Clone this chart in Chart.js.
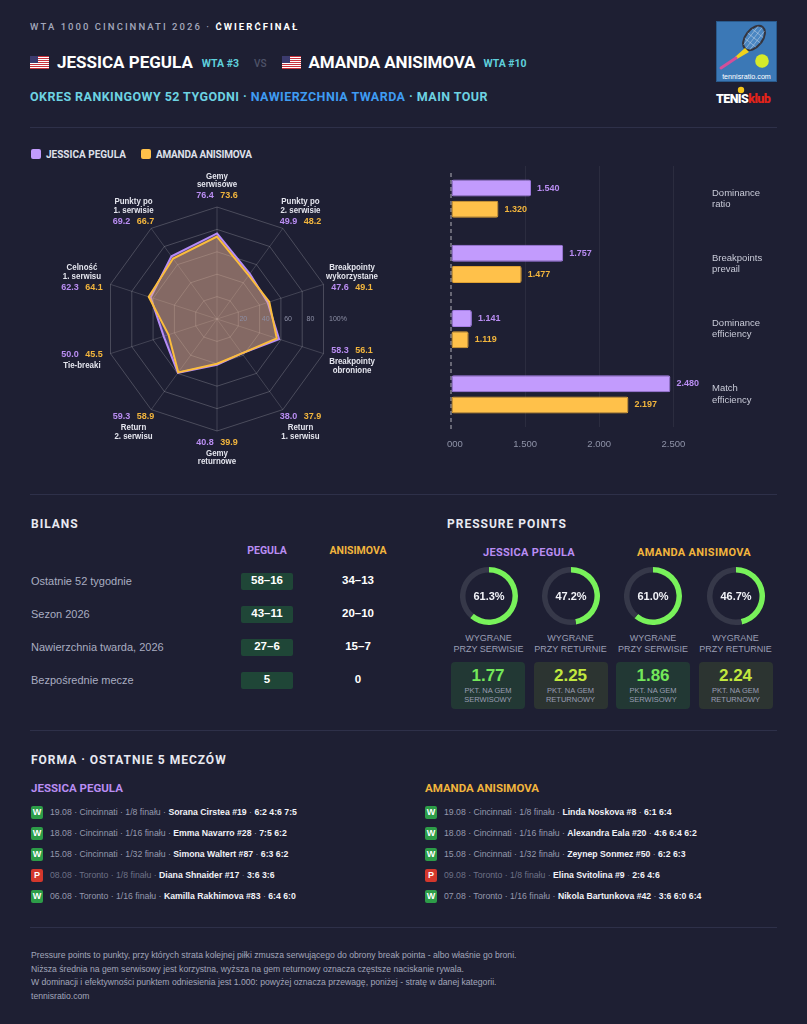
<!DOCTYPE html>
<html lang="pl">
<head>
<meta charset="utf-8">
<title>Pegula vs Anisimova</title>
<script src="https://cdn.jsdelivr.net/npm/chart.js@4.4.1/dist/chart.umd.min.js"></script>
<style>
  html, body { margin:0; padding:0; background:#1e1f33; }
  body { width:807px; height:1024px; position:relative; overflow:hidden; color:#e8e9f1; font-family:"Liberation Sans", Arial, sans-serif; }
  .t { position:absolute; white-space:nowrap; line-height:1; transform:translateY(-50%); }
  .c { transform:translate(-50%,-50%); text-align:center; }
  .disp { font-family:Roboto, "Liberation Sans", sans-serif; font-weight:700; }
  .narrow { transform:translateY(-50%) scaleX(0.915); transform-origin:left center; }
  .rule { position:absolute; left:30px; width:747px; height:1px; background:#2e3049; }
  .row { position:absolute; display:flex; align-items:center; white-space:nowrap; }
  .abs { position:absolute; }
</style>
</head>
<body>

<!-- header -->
<div class="t disp" style="left:30px;top:27px;font-size:9.5px;letter-spacing:2.05px;font-weight:500;color:#a3a7bb">WTA 1000 CINCINNATI 2026 · <span style="color:#fff;font-weight:700">ĆWIERĆFINAŁ</span></div>

<div class="row disp" style="left:30px;top:52px;height:20px">
  <svg width="19" height="13" viewBox="0 0 19 13"><rect width="19" height="13" fill="#fff"/><g fill="#c8323c"><rect y="0" width="19" height="1"/><rect y="2" width="19" height="1"/><rect y="4" width="19" height="1"/><rect y="6" width="19" height="1"/><rect y="8" width="19" height="1"/><rect y="10" width="19" height="1"/><rect y="12" width="19" height="1"/></g><rect width="8" height="7" fill="#3c3b6e"/></svg>
  <span style="margin-left:8px;font-size:17px;color:#fff">JESSICA PEGULA</span>
  <span style="margin-left:9px;font-size:10.5px;color:#5fd0dc;padding-top:2px">WTA #3</span>
  <span style="margin-left:15px;font-size:10px;color:#4f5369;font-weight:500;padding-top:2px">VS</span>
  <svg style="margin-left:16px" width="19" height="13" viewBox="0 0 19 13"><rect width="19" height="13" fill="#fff"/><g fill="#c8323c"><rect y="0" width="19" height="1"/><rect y="2" width="19" height="1"/><rect y="4" width="19" height="1"/><rect y="6" width="19" height="1"/><rect y="8" width="19" height="1"/><rect y="10" width="19" height="1"/><rect y="12" width="19" height="1"/></g><rect width="8" height="7" fill="#3c3b6e"/></svg>
  <span style="margin-left:7px;font-size:17px;color:#fff;letter-spacing:-0.1px">AMANDA ANISIMOVA</span>
  <span style="margin-left:8px;font-size:10.5px;color:#5fd0dc;padding-top:2px">WTA #10</span>
</div>

<div class="t disp" style="left:30px;top:97px;font-size:12.5px;letter-spacing:0.45px;color:#6dd3e2">OKRES RANKINGOWY 52 TYGODNI · <span style="color:#3f9cf2">NAWIERZCHNIA TWARDA</span> · MAIN TOUR</div>

<!-- logos -->
<svg class="abs" style="left:716px;top:21px" width="61" height="61" viewBox="0 0 61 61">
  <rect width="61" height="61" fill="#3b78b6"/>
  <rect x="0.5" y="0.5" width="60" height="60" fill="none" stroke="#2a5a8c"/>
  <ellipse cx="38" cy="17" rx="8.5" ry="14" transform="rotate(38 38 17)" fill="#4a86c2" stroke="#34343e" stroke-width="2"/>
  <g stroke="#dfe6ee" stroke-width="0.5" opacity="0.8" transform="rotate(38 38 17)">
    <line x1="34" y1="5" x2="34" y2="29"/><line x1="38" y1="4" x2="38" y2="30"/><line x1="42" y1="5" x2="42" y2="29"/>
    <line x1="31" y1="11" x2="45" y2="11"/><line x1="30" y1="17" x2="46" y2="17"/><line x1="31" y1="23" x2="45" y2="23"/>
  </g>
  <path d="M29 27 L33 31 L21 38 L19 36 Z" fill="#f1d21c"/>
  <line x1="20" y1="37" x2="5" y2="47" stroke="#d24f9a" stroke-width="3" stroke-linecap="round"/>
  <circle cx="46" cy="40" r="6.8" fill="#d6ea2a"/>
  <text x="30.5" y="58" text-anchor="middle" font-family="Liberation Sans, Arial" font-size="7.2" fill="#fff">tennisratio.com</text>
</svg>
<svg class="abs" style="left:714px;top:85px" width="66" height="22" viewBox="0 0 66 22">
  <circle cx="27" cy="5" r="3.2" fill="#f5c518"/>
  <text x="2" y="18" font-family="Roboto, Arial" font-weight="900" font-size="12.5" letter-spacing="-0.6" fill="#fff">TENIS<tspan fill="#e2231a">klub</tspan></text>
</svg>

<div class="rule" style="top:127px"></div>

<!-- legend -->
<div class="row disp" style="left:31px;top:148px;height:12px;font-size:10px;color:#dfe0ea">
  <span style="width:10px;height:10px;border-radius:2px;background:#c29bfd;display:inline-block"></span>
  <span style="margin-left:5px">JESSICA PEGULA</span>
  <span style="margin-left:15px;width:10px;height:10px;border-radius:2px;background:#ffc14a;display:inline-block"></span>
  <span style="margin-left:5px;letter-spacing:-0.2px">AMANDA ANISIMOVA</span>
</div>

<div class="abs" style="left:30px;top:160px;width:374px;height:318px"><canvas id="radar"></canvas></div>
<div class="abs" style="left:447px;top:160px;width:330px;height:300px;overflow:hidden">
  <div class="abs" style="left:-9px;top:0;width:339px;height:300px"><canvas id="ratios"></canvas></div>
</div>

<div class="rule" style="top:494px"></div>

<div class="t disp" style="left:31px;top:524px;font-size:12px;letter-spacing:1px;color:#e8e9f1">BILANS</div>
<div class="t c disp" style="left:267px;top:551px;font-size:10.5px;color:#b98df2">PEGULA</div>
<div class="t c disp" style="left:358px;top:551px;font-size:10.5px;color:#f2b53d">ANISIMOVA</div>
<div id="bilans"></div>

<div class="t disp" style="left:447px;top:524px;font-size:12px;letter-spacing:1px;color:#e8e9f1">PRESSURE POINTS</div>
<div class="t c disp" style="left:529px;top:552px;font-size:11px;letter-spacing:0.3px;color:#b98df2">JESSICA PEGULA</div>
<div class="t c disp" style="left:694px;top:552px;font-size:11px;letter-spacing:0.3px;color:#f2b53d">AMANDA ANISIMOVA</div>
<div id="pressure"></div>

<div class="rule" style="top:730px"></div>

<div class="t disp" style="left:31px;top:760px;font-size:12px;letter-spacing:1px;color:#e8e9f1">FORMA · OSTATNIE 5 MECZÓW</div>
<div class="t disp" style="left:31px;top:789px;font-size:11.5px;color:#b98df2">JESSICA PEGULA</div>
<div class="t disp" style="left:425px;top:789px;font-size:11.5px;color:#f2b53d">AMANDA ANISIMOVA</div>
<div id="forma"></div>

<div class="rule" style="top:927px"></div>
<div id="footer"></div>

<script>
// ---- data ----
var radarAxes = [['Gemy','serwisowe'], ['Punkty po','2. serwisie'], ['Breakpointy','wykorzystane'], ['Breakpointy','obronione'], ['Return','1. serwisu'],
                 ['Gemy','returnowe'], ['Return','2. serwisu'], ['Tie-breaki'], ['Celność','1. serwisu'], ['Punkty po','1. serwisie']];
var peguRadar = [76.4, 49.9, 47.6, 58.3, 38.0, 40.8, 59.3, 50.0, 62.3, 69.2];
var anisRadar = [73.6, 48.2, 49.1, 56.1, 37.9, 39.9, 58.9, 45.5, 64.1, 66.7];
var radarTicks = [20, 40, 60, 80, 100];

var ratioLabels = [['Dominance','ratio'], ['Breakpoints','prevail'], ['Dominance','efficiency'], ['Match','efficiency']];
var peguRatios = [1.540, 1.757, 1.141, 2.480];
var anisRatios = [1.320, 1.477, 1.119, 2.197];
var ratioTicks = [1.0, 1.5, 2.0, 2.5];

var bilansRows = ['Ostatnie 52 tygodnie', 'Sezon 2026', 'Nawierzchnia twarda, 2026', 'Bezpośrednie mecze'];
var peguRecord = ['58–16', '43–11', '27–6', '5'];
var anisRecord = ['34–13', '20–10', '15–7', '0'];

var pressureCaptions = [['WYGRANE','PRZY SERWISIE'], ['WYGRANE','PRZY RETURNIE']];
var perGameCaptions = [['PKT. NA GEM','SERWISOWY'], ['PKT. NA GEM','RETURNOWY']];
var peguPressure = [61.3, 47.2];
var anisPressure = [61.0, 46.7];
var peguPerGame = [1.77, 2.25];
var anisPerGame = [1.86, 2.24];

var peguForm = [
  ['W', '19.08 · Cincinnati · 1/8 finału', 'Sorana Cirstea #19', '6:2 4:6 7:5'],
  ['W', '18.08 · Cincinnati · 1/16 finału', 'Emma Navarro #28', '7:5 6:2'],
  ['W', '15.08 · Cincinnati · 1/32 finału', 'Simona Waltert #87', '6:3 6:2'],
  ['P', '08.08 · Toronto · 1/8 finału', 'Diana Shnaider #17', '3:6 3:6'],
  ['W', '06.08 · Toronto · 1/16 finału', 'Kamilla Rakhimova #83', '6:4 6:0']
];
var anisForm = [
  ['W', '19.08 · Cincinnati · 1/8 finału', 'Linda Noskova #8', '6:1 6:4'],
  ['W', '18.08 · Cincinnati · 1/16 finału', 'Alexandra Eala #20', '4:6 6:4 6:2'],
  ['W', '15.08 · Cincinnati · 1/32 finału', 'Zeynep Sonmez #50', '6:2 6:3'],
  ['P', '09.08 · Toronto · 1/8 finału', 'Elina Svitolina #9', '2:6 4:6'],
  ['W', '07.08 · Toronto · 1/16 finału', 'Nikola Bartunkova #42', '3:6 6:0 6:4']
];

var footerLines = [
  'Pressure points to punkty, przy których strata kolejnej piłki zmusza serwującego do obrony break pointa - albo właśnie go broni.',
  'Niższa średnia na gem serwisowy jest korzystna, wyższa na gem returnowy oznacza częstsze naciskanie rywala.',
  'W dominacji i efektywności punktem odniesienia jest 1.000: powyżej oznacza przewagę, poniżej - stratę w danej kategorii.',
  'tennisratio.com'
];

var PURPLE = '#c29bfd', PURPLE_TXT = '#b98df2';
var ORANGE = '#ffc14a', ORANGE_TXT = '#f2b53d';
var GREEN = '#78f25a', TRACK = '#363849';
var FONT = '"Liberation Sans", Arial, sans-serif';

// ---- radar ----
var radarText = {
  id: 'radarText',
  afterDraw: function(chart) {
    var s = chart.scales.r, ctx = chart.ctx;
    ctx.save();
    ctx.textBaseline = 'middle';
    ctx.font = '7px ' + FONT;
    ctx.fillStyle = '#8c8fa5';
    ctx.textAlign = 'left';
    radarTicks.forEach(function(v) {
      ctx.fillText(v === 100 ? v + '%' : v, s.xCenter + s.getDistanceFromCenterForValue(v), s.yCenter);
    });
    radarAxes.forEach(function(lines, i) {
      var p = s.getPointPosition(i, s.drawingArea + 30);
      var x = p.x, yc = s.yCenter + (p.y - s.yCenter) * 0.937;
      var lower = p.y > s.yCenter + 5;
      var nameH = 8.8, valH = 11;
      var y = yc - (lines.length * nameH + valH) / 2;
      var vals = function(yy) {
        ctx.font = 'bold 9px ' + FONT;
        var a = peguRadar[i].toFixed(1), b = anisRadar[i].toFixed(1);
        var wa = ctx.measureText(a).width, wb = ctx.measureText(b).width, gap = 6.5;
        var x0 = x - (wa + gap + wb) / 2;
        ctx.fillStyle = PURPLE_TXT; ctx.fillText(a, x0, yy);
        ctx.fillStyle = ORANGE_TXT; ctx.fillText(b, x0 + wa + gap, yy);
      };
      var names = function() {
        ctx.font = 'bold 9px ' + FONT;
        ctx.fillStyle = '#e4e5ee';
        lines.forEach(function(l) {
          var w = ctx.measureText(l).width * 0.88;
          ctx.save();
          ctx.translate(x - w / 2, y + nameH / 2);
          ctx.scale(0.88, 1);
          ctx.fillText(l, 0, 0);
          ctx.restore();
          y += nameH;
        });
      };
      if (!lower) { names(); vals(y + valH / 2 + 1); }
      else { vals(y + valH / 2 - 1); y += valH; names(); }
    });
    ctx.restore();
  }
};

new Chart(document.getElementById('radar'), {
  type: 'radar',
  data: {
    labels: radarAxes.map(function(a) { return a.join(' '); }),
    datasets: [
      { label: 'Jessica Pegula', data: peguRadar, order: 1, borderColor: '#b58cf7', backgroundColor: 'rgba(194,155,253,0.30)', borderWidth: 2, pointRadius: 0, fill: true },
      { label: 'Amanda Anisimova', data: anisRadar, order: 0, borderColor: '#fbbd3c', backgroundColor: 'rgba(255,193,74,0.30)', borderWidth: 2, pointRadius: 0, fill: true }
    ]
  },
  options: {
    responsive: true, maintainAspectRatio: false, animation: false,
    layout: { padding: 47 },
    plugins: { legend: { display: false }, tooltip: { enabled: false } },
    scales: {
      r: {
        min: 0, max: 100,
        ticks: { display: false, stepSize: 20 },
        pointLabels: { display: false },
        grid: { color: 'rgba(255,255,255,0.2)' },
        angleLines: { color: 'rgba(255,255,255,0.16)' }
      }
    }
  },
  plugins: [radarText]
});

// ---- ratios ----
var ratioPlugin = {
  id: 'ratioPlugin',
  beforeDatasetsDraw: function(chart) {
    var ctx = chart.ctx, a = chart.chartArea, x = chart.scales.x.getPixelForValue(1);
    ctx.save();
    ctx.strokeStyle = 'rgba(255,255,255,0.55)';
    ctx.lineWidth = 1.2;
    ctx.setLineDash([4, 3]);
    ctx.beginPath(); ctx.moveTo(x, a.top + 7); ctx.lineTo(x, a.bottom + 4); ctx.stroke();
    ctx.restore();
  },
  afterDatasetsDraw: function(chart) {
    var ctx = chart.ctx;
    ctx.save();
    ctx.font = 'bold 9px ' + FONT;
    ctx.textBaseline = 'middle';
    ctx.textAlign = 'left';
    chart.data.datasets.forEach(function(ds, di) {
      ctx.fillStyle = di === 0 ? PURPLE_TXT : ORANGE_TXT;
      chart.getDatasetMeta(di).data.forEach(function(bar, i) {
        ctx.fillText(ds.data[i].toFixed(3), bar.x + 6, bar.y);
      });
    });
    ctx.restore();
  }
};

new Chart(document.getElementById('ratios'), {
  type: 'bar',
  data: {
    labels: ratioLabels,
    datasets: [
      { data: peguRatios, base: 1, backgroundColor: PURPLE, borderColor: '#a47de6', borderWidth: 1, borderRadius: 2, borderSkipped: false, categoryPercentage: 0.646, barPercentage: 0.81 },
      { data: anisRatios, base: 1, backgroundColor: ORANGE, borderColor: '#e0a233', borderWidth: 1, borderRadius: 2, borderSkipped: false, categoryPercentage: 0.646, barPercentage: 0.81 }
    ]
  },
  options: {
    indexAxis: 'y',
    responsive: true, maintainAspectRatio: false, animation: false,
    layout: { padding: { left: 13, top: 6, bottom: 9, right: 0 } },
    plugins: { legend: { display: false }, tooltip: { enabled: false } },
    scales: {
      x: {
        min: 1, max: 2.7,
        afterBuildTicks: function(s) { s.ticks = ratioTicks.map(function(v) { return { value: v }; }); },
        afterFit: function(s) { s.height = 24; s.paddingLeft = 0; s.paddingRight = 0; },
        ticks: { color: '#8f93a8', font: { size: 9.5, family: FONT }, padding: 12, maxRotation: 0,
                 callback: function(v) { return Number(v).toFixed(3); } },
        grid: { drawTicks: false, color: function(c) { return c.tick && c.tick.value === 1 ? 'rgba(0,0,0,0)' : 'rgba(255,255,255,0.06)'; } },
        border: { display: false }
      },
      y: {
        position: 'right',
        afterFit: function(s) { s.width = 74; s.paddingTop = 0; s.paddingBottom = 0; },
        ticks: { color: '#c9cbd8', font: { size: 9.5, family: FONT }, padding: 9 },
        grid: { display: false, drawTicks: false },
        border: { display: false }
      }
    }
  },
  plugins: [ratioPlugin]
});

// ---- bilans ----
var html = '';
bilansRows.forEach(function(label, i) {
  var y = 581 + i * 33;
  html += '<div class="t" style="left:31px;top:' + y + 'px;font-size:11px;color:#a9adc1">' + label + '</div>';
  html += '<div class="abs" style="left:241px;top:' + (y - 8.5) + 'px;width:52px;height:17px;background:#1f4637;border-radius:2px"></div>';
  html += '<div class="t c" style="left:267px;top:' + y + 'px;font-size:11.5px;font-weight:700;color:#fff">' + peguRecord[i] + '</div>';
  html += '<div class="t c" style="left:358px;top:' + y + 'px;font-size:11.5px;font-weight:700;color:#fff">' + anisRecord[i] + '</div>';
});
document.getElementById('bilans').innerHTML = html;

// ---- pressure points ----
var ringX = [488.5, 570.5, 653, 735.5];
var boxX = [451, 533.5, 616, 698.5];
var ringValues = peguPressure.concat(anisPressure);
var perGame = peguPerGame.concat(anisPerGame);
html = '';
ringValues.forEach(function(v, i) {
  var k = i % 2;
  html += '<div class="abs" style="left:' + (ringX[i] - 29) + 'px;top:567px;width:58px;height:58px"><canvas id="ring' + i + '"></canvas></div>';
  html += '<div class="t c" style="left:' + ringX[i] + 'px;top:638px;font-size:9px;color:#9a9eb3">' + pressureCaptions[k][0] + '</div>';
  html += '<div class="t c" style="left:' + ringX[i] + 'px;top:648.5px;font-size:9px;color:#9a9eb3">' + pressureCaptions[k][1] + '</div>';
  html += '<div class="abs" style="left:' + boxX[i] + 'px;top:662px;width:74px;height:47px;border-radius:4px;background:' + (k === 0 ? '#223834' : '#2c3431') + '"></div>';
  html += '<div class="t c" style="left:' + (boxX[i] + 37) + 'px;top:675px;font-size:17px;font-weight:700;color:' + (k === 0 ? '#74e85a' : '#c2e83e') + '">' + perGame[i].toFixed(2) + '</div>';
  html += '<div class="t c" style="left:' + (boxX[i] + 37) + 'px;top:691px;font-size:7.5px;color:#9a9eb3">' + perGameCaptions[k][0] + '</div>';
  html += '<div class="t c" style="left:' + (boxX[i] + 37) + 'px;top:700px;font-size:7.5px;color:#9a9eb3">' + perGameCaptions[k][1] + '</div>';
});
document.getElementById('pressure').innerHTML = html;

var ringText = {
  id: 'ringText',
  afterDraw: function(chart) {
    var ctx = chart.ctx, m = chart.getDatasetMeta(0).data[0];
    ctx.save();
    ctx.font = 'bold 11px ' + FONT;
    ctx.fillStyle = '#f2f3f8';
    ctx.textAlign = 'center';
    ctx.textBaseline = 'middle';
    ctx.fillText(chart.data.datasets[0].data[0].toFixed(1) + '%', m.x, m.y + 0.5);
    ctx.restore();
  }
};
ringValues.forEach(function(v, i) {
  new Chart(document.getElementById('ring' + i), {
    type: 'doughnut',
    data: { datasets: [{ data: [v, 100 - v], backgroundColor: [GREEN, TRACK], borderWidth: 0 }] },
    options: {
      responsive: true, maintainAspectRatio: false, animation: false, cutout: '81%',
      plugins: { legend: { display: false }, tooltip: { enabled: false } }
    },
    plugins: [ringText]
  });
});

// ---- forma ----
html = '';
function formRows(rows, left) {
  rows.forEach(function(r, i) {
    var y = 812 + i * 21, win = r[0] === 'W';
    html += '<div class="abs" style="left:' + left + 'px;top:' + (y - 6.5) + 'px;width:12px;height:13px;border-radius:2px;background:' + (win ? '#2d9d48' : '#d3372c') + '"></div>';
    html += '<div class="t c" style="left:' + (left + 6) + 'px;top:' + y + 'px;font-size:9px;font-weight:700;color:#fff">' + r[0] + '</div>';
    html += '<div class="t narrow" style="left:' + (left + 19) + 'px;top:' + y + 'px;font-size:9.5px;color:' + (win ? '#9599ad' : '#6d7186') + '">' +
            r[1] + ' · <span style="color:#f1f2f7;font-weight:700">' + r[2] + '</span> · <span style="color:#f1f2f7;font-weight:700">' + r[3] + '</span></div>';
  });
}
formRows(peguForm, 31);
formRows(anisForm, 425);
document.getElementById('forma').innerHTML = html;

// ---- footer ----
html = '';
footerLines.forEach(function(l, i) {
  html += '<div class="t" style="left:31px;top:' + (955 + i * 13.7) + 'px;font-size:8.65px;color:#a2a6ba">' + l + '</div>';
});
document.getElementById('footer').innerHTML = html;
</script>
</body>
</html>
